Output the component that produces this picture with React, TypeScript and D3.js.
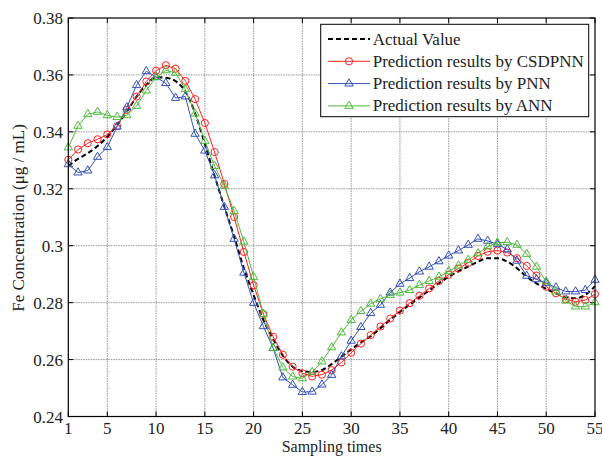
import React from "react";
import * as d3 from "d3";

const samples = d3.range(1, 56);

const actualValue = [
  0.3280, 0.3305, 0.3325, 0.3350, 0.3383, 0.3424, 0.3471, 0.3524, 0.3565, 0.3592,
  0.3590, 0.3578, 0.3542, 0.3465, 0.3358, 0.3245, 0.3137, 0.3032, 0.2921, 0.2827,
  0.2739, 0.2672, 0.2614, 0.2575, 0.2560, 0.2557, 0.2563, 0.2584, 0.2610, 0.2636,
  0.2660, 0.2682, 0.2710, 0.2740, 0.2767, 0.2793, 0.2818, 0.2843, 0.2868, 0.2891,
  0.2910, 0.2927, 0.2944, 0.2956, 0.2956, 0.2944, 0.2921, 0.2891, 0.2868, 0.2848,
  0.2833, 0.2819, 0.2815, 0.2827, 0.2858,
];

const csdpnn = [
  0.3302, 0.3338, 0.3360, 0.3374, 0.3391, 0.3420, 0.3477, 0.3524, 0.3577, 0.3615,
  0.3634, 0.3622, 0.3579, 0.3515, 0.3431, 0.3329, 0.3217, 0.3101, 0.2978, 0.2861,
  0.2760, 0.2680, 0.2617, 0.2575, 0.2552, 0.2541, 0.2547, 0.2563, 0.2590, 0.2624,
  0.2656, 0.2686, 0.2716, 0.2744, 0.2772, 0.2798, 0.2824, 0.2850, 0.2876, 0.2898,
  0.2920, 0.2940, 0.2964, 0.2979, 0.2983, 0.2976, 0.2956, 0.2929, 0.2895, 0.2856,
  0.2833, 0.2812, 0.2803, 0.2809, 0.2830,
];

const pnn = [
  0.3286, 0.3257, 0.3264, 0.3312, 0.3346, 0.3418, 0.3486, 0.3564, 0.3613, 0.3592,
  0.3571, 0.3519, 0.3524, 0.3393, 0.3334, 0.3247, 0.3136, 0.3024, 0.2905, 0.2799,
  0.2717, 0.2640, 0.2537, 0.2511, 0.2486, 0.2487, 0.2512, 0.2546, 0.2611, 0.2666,
  0.2714, 0.2763, 0.2792, 0.2835, 0.2866, 0.2886, 0.2909, 0.2926, 0.2945, 0.2965,
  0.2983, 0.3003, 0.3024, 0.3017, 0.3005, 0.2987, 0.2947, 0.2894, 0.2882, 0.2868,
  0.2853, 0.2839, 0.2839, 0.2844, 0.2880,
];

const ann = [
  0.3345, 0.3421, 0.3462, 0.3470, 0.3458, 0.3452, 0.3458, 0.3491, 0.3545, 0.3592,
  0.3616, 0.3607, 0.3550, 0.3464, 0.3368, 0.3280, 0.3210, 0.3121, 0.3014, 0.2890,
  0.2760, 0.2641, 0.2572, 0.2540, 0.2534, 0.2556, 0.2593, 0.2643, 0.2695, 0.2739,
  0.2770, 0.2796, 0.2813, 0.2827, 0.2835, 0.2844, 0.2862, 0.2876, 0.2891, 0.2910,
  0.2930, 0.2950, 0.2973, 0.2997, 0.3011, 0.3012, 0.3003, 0.2971, 0.2926, 0.2874,
  0.2839, 0.2807, 0.2786, 0.2786, 0.2801,
];

const xTicks = [1, 5, 10, 15, 20, 25, 30, 35, 40, 45, 50, 55];
const yTicks = [0.24, 0.26, 0.28, 0.3, 0.32, 0.34, 0.36, 0.38];
const yTickLabels = ["0.24", "0.26", "0.28", "0.3", "0.32", "0.34", "0.36", "0.38"];

const legendLabels = [
  "Actual Value",
  "Prediction results by CSDPNN",
  "Prediction results by PNN",
  "Prediction results by ANN",
];

const W = 602;
const H = 457;
const L = 68.3;
const R = 595;
const T = 18;
const B = 416.5;
const FONT = "'Liberation Serif', 'Times New Roman', serif";

const RED = "#ff2020";
const BLUE = "#3350b8";
const GREEN = "#4dbb3a";

export default function App() {
  const x = d3.scaleLinear().domain([1, 55]).range([L, R]);
  const y = d3.scaleLinear().domain([0.24, 0.38]).range([B, T]);

  const line = (vals: number[]) =>
    d3
      .line<number>()
      .x((_, i) => x(samples[i]))
      .y((v) => y(v))(vals) as string;

  const smooth = (vals: number[]) =>
    d3
      .line<number>()
      .x((_, i) => x(samples[i]))
      .y((v) => y(v))
      .curve(d3.curveMonotoneX)(vals) as string;

  const tri = d3.symbol(d3.symbolTriangle, 30)() as string;

  const series = [
    { vals: csdpnn, color: RED, marker: "circle" },
    { vals: pnn, color: BLUE, marker: "tri" },
    { vals: ann, color: GREEN, marker: "tri" },
  ];

  const Marker = ({ cx, cy, kind, color }: any) =>
    kind === "circle" ? (
      <circle cx={cx} cy={cy} r={3.6} fill="none" stroke={color} strokeWidth={1} />
    ) : (
      <path d={tri} transform={`translate(${cx},${cy})`} fill="none" stroke={color} strokeWidth={1} />
    );

  const lgX = 320.7;
  const lgY = 24.3;
  const lgW = 268;
  const lgH = 92.4;
  const rowY = [39, 61.3, 83.6, 105.9];

  return (
    <svg
      width={W}
      height={H}
      style={{ position: "absolute", left: 0, top: 0, background: "#fff" }}
      fontFamily={FONT}
    >
      <rect x={0} y={0} width={W} height={H} fill="#fff" />
      {/* grid */}
      {xTicks.slice(1, -1).map((t) => (
        <line key={"gx" + t} x1={x(t)} x2={x(t)} y1={T} y2={B} stroke="#8a8a8a" strokeWidth={0.9} strokeDasharray="1.5,1" />
      ))}
      {yTicks.slice(1, -1).map((t) => (
        <line key={"gy" + t} x1={L} x2={R} y1={y(t)} y2={y(t)} stroke="#8a8a8a" strokeWidth={0.9} strokeDasharray="1.5,1" />
      ))}
      {/* ticks inward */}
      {xTicks.map((t) => (
        <g key={"tx" + t}>
          <line x1={x(t)} x2={x(t)} y1={B} y2={B - 5} stroke="#000" strokeWidth={1} />
          <line x1={x(t)} x2={x(t)} y1={T} y2={T + 5} stroke="#000" strokeWidth={1} />
          <text x={x(t)} y={434} textAnchor="middle" fontSize={17} fill="#222">
            {t}
          </text>
        </g>
      ))}
      {yTicks.map((t, i) => (
        <g key={"ty" + t}>
          <line x1={L} x2={L + 5} y1={y(t)} y2={y(t)} stroke="#000" strokeWidth={1} />
          <line x1={R} x2={R - 5} y1={y(t)} y2={y(t)} stroke="#000" strokeWidth={1} />
          <text x={63} y={y(t) + 6} textAnchor="end" fontSize={17} fill="#222">
            {yTickLabels[i]}
          </text>
        </g>
      ))}
      {/* series */}
      <path d={smooth(actualValue)} fill="none" stroke="#000" strokeWidth={2} strokeDasharray="5,3" />
      {series.map((s, si) => (
        <g key={"s" + si}>
          <path d={line(s.vals)} fill="none" stroke={s.color} strokeWidth={1} />
          {s.vals.map((v, i) => (
            <Marker key={i} cx={x(samples[i])} cy={y(v)} kind={s.marker} color={s.color} />
          ))}
        </g>
      ))}
      {/* frame */}
      <rect x={L} y={T} width={R - L} height={B - T} fill="none" stroke="#000" strokeWidth={1.2} />
      {/* legend */}
      <rect x={lgX} y={lgY} width={lgW} height={lgH} fill="#fff" stroke="#000" strokeWidth={1} />
      <line x1={328} x2={370} y1={rowY[0]} y2={rowY[0]} stroke="#000" strokeWidth={2} strokeDasharray="5,3" />
      {series.map((s, si) => (
        <g key={"lg" + si}>
          <line x1={328} x2={370} y1={rowY[si + 1]} y2={rowY[si + 1]} stroke={s.color} strokeWidth={1} />
          <Marker cx={349} cy={rowY[si + 1]} kind={s.marker} color={s.color} />
        </g>
      ))}
      {legendLabels.map((lb, i) => (
        <text key={lb} x={372.7} y={rowY[i] + 5.5} fontSize={17} fill="#222">
          {lb}
        </text>
      ))}
      {/* axis titles */}
      <text x={(L + R) / 2} y={452} textAnchor="middle" fontSize={16} fill="#222">
        Sampling times
      </text>
      <text transform={`translate(24,218) rotate(-90)`} textAnchor="middle" fontSize={17} fill="#222">
        Fe Concentration (μg / mL)
      </text>
    </svg>
  );
}
